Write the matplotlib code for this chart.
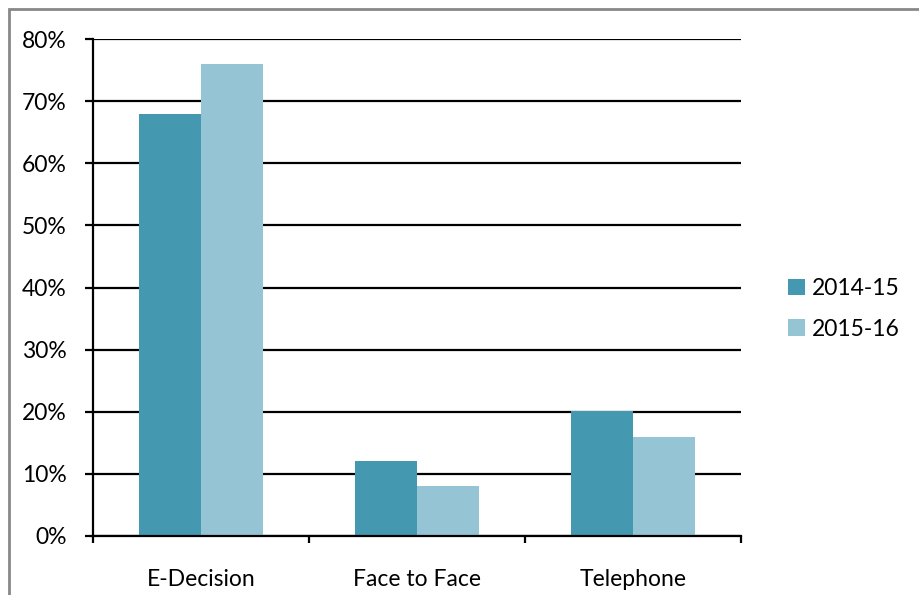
import matplotlib.pyplot as plt
import numpy as np
from matplotlib.patches import Rectangle
from matplotlib.ticker import PercentFormatter

plt.rcParams['font.family'] = ['Lato', 'DejaVu Sans']

categories = ["E-Decision", "Face to Face", "Telephone"]
series_names = ["2014-15", "2015-16"]
vals_1415 = [68, 12, 20.2]
vals_1516 = [76, 8, 16]
colors = ["#4499b0", "#95c4d5"]

fig = plt.figure(figsize=(9.19, 5.95), dpi=100)
ax = fig.add_axes([93 / 919, 1 - 536 / 595, 648 / 919, 497 / 595])

# outer chart frame
fig.patches.append(Rectangle((9 / 919, -0.1), 1.2, 1 - 9 / 595 + 0.1,
                             transform=fig.transFigure, fill=False,
                             edgecolor="#888888", linewidth=2))

x = np.arange(len(categories))
w = 0.287
ax.bar(x - w / 2, vals_1415, w, color=colors[0], label=series_names[0], zorder=2)
ax.bar(x + w / 2, vals_1516, w, color=colors[1], label=series_names[1], zorder=2)

ax.set_xlim(-0.5, 2.5)
ax.set_ylim(0, 80)
ax.set_yticks(range(0, 81, 10))
ax.yaxis.set_major_formatter(PercentFormatter(decimals=0))
ax.yaxis.grid(True, color="black", linewidth=1.6, zorder=1)
ax.set_axisbelow(True)

# category boundaries carry the ticks, names sit in between
ax.set_xticks([-0.5, 0.5, 1.5, 2.5])
ax.set_xticklabels([])
ax.set_xticks(x, minor=True)
ax.set_xticklabels(categories, minor=True)
ax.tick_params(axis="x", which="major", length=5, width=1.6, direction="out")
ax.tick_params(axis="x", which="minor", length=0, pad=23.5, labelsize=16.5)
ax.tick_params(axis="y", length=6, width=1.6, pad=13, labelsize=16.5)

for s in ["top", "right"]:
    ax.spines[s].set_visible(False)
for s in ["left", "bottom"]:
    ax.spines[s].set_linewidth(1.6)

ax.legend(loc="center left", bbox_to_anchor=(1.04, 0.457), frameon=False,
          fontsize=16.5, handlelength=0.75, handleheight=0.75, handletextpad=0.3,
          labelspacing=0.86)

fig.savefig("out.png", dpi=100)
